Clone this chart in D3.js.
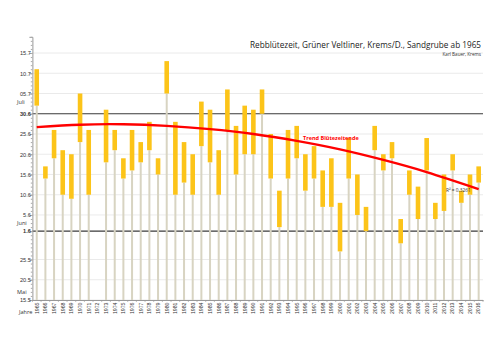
<!DOCTYPE html>
<html>
<head>
<meta charset="utf-8">
<script src="https://cdn.jsdelivr.net/npm/d3@7"></script>
<style>
  body { margin: 0; background: #fff; }
  svg { display: block; font-family: "Open Sans", "Noto Sans", sans-serif; }
</style>
</head>
<body>
<script>
// Jahre 1965-2016 (1972 ohne Daten)
var years = d3.range(1965, 2017);

// Blühbeginn / Blütezeitende als Tag.Monat
var starts = ["2.7","14.6","19.6","10.6","9.6","23.6","10.6",null,"18.6","21.6",
              "14.6","16.6","18.6","21.6","15.6","5.7","10.6","13.6","10.6","22.6",
              "18.6","10.6","26.6","15.6","20.6","20.6","30.6","14.6","2.6","14.6",
              "19.6","11.6","14.6","7.6","7.6","27.5","14.6","5.6","1.6","21.6",
              "16.6","19.6","29.5","10.6","4.6","16.6","4.6","6.6","16.6","8.6",
              "10.6","13.6"];
var ends   = ["11.7","17.6","26.6","21.6","20.6","5.7","26.6",null,"1.7","26.6",
              "19.6","26.6","23.6","28.6","19.6","13.7","28.6","23.6","20.6","3.7",
              "1.7","21.6","6.7","27.6","2.7","1.7","6.7","25.6","11.6","26.6",
              "27.6","20.6","22.6","16.6","19.6","8.6","24.6","15.6","7.6","27.6",
              "20.6","23.6","4.6","16.6","12.6","24.6","8.6","15.6","20.6","11.6",
              "15.6","17.6"];

// Trend Blütezeitende (Tage nach 1. Mai)
var trendYears = [1965, 1970, 1975, 1980, 1985, 1990, 1995, 2000, 2005, 2010, 2016];
var trendDays  = [56.7, 57.3, 57.4, 57.0, 56.2, 55.0, 53.3, 51.2, 48.6, 45.6, 41.4];

var tickDates  = ["15.5","20.5","25.5","1.6","5.6","10.6","15.6","20.6","25.6","30.6","5.7","10.7","15.7"];
var tickLabels = ["15.5","20.5","25.5","1.6","5.6","10.6","15.6","20.6","25.6","30.6","05.7","10.7","15.7"];
var boldDates  = ["1.6","30.6"];

var monthNames = ["Mai", "Juni", "Juli"];
var monthAt    = ["17.5", "3.6", "3.7"];

// Tag.Monat -> Tage nach 1. Mai
function toDay(s) {
  var p = s.split(".");
  var dd = +p[0], mm = +p[1];
  var offs = {5: -1, 6: 30, 7: 60};
  return offs[mm] + dd;
}

var w = 500, h = 354;
var left = 32.4, right = 483, bottom = 300;

var svg = d3.select("body").append("svg")
  .attr("width", w)
  .attr("height", h);

var x = d3.scaleBand()
  .domain(years)
  .range([left, right]);

var y = d3.scaleLinear()
  .domain([14, 79])
  .range([bottom, bottom - 65 * 4.049]);

var tickDays = tickDates.map(toDay);

// Gitterlinien
svg.append("g").selectAll("line")
  .data(tickDates)
  .enter().append("line")
  .attr("x1", left).attr("x2", right)
  .attr("y1", function(d) { return y(toDay(d)); })
  .attr("y2", function(d) { return y(toDay(d)); })
  .attr("stroke", function(d) { return boldDates.indexOf(d) >= 0 ? "#3a3a3a" : "#e4e4e4"; })
  .attr("stroke-width", function(d) { return boldDates.indexOf(d) >= 0 ? 1.1 : 0.8; });

var data = years.map(function(yr, i) {
  return { year: yr, start: starts[i], end: ends[i] };
}).filter(function(d) { return d.start != null; });

var cx = function(d) { return x(d.year) + x.bandwidth() / 2; };

// Sockel (15.5 bis Blühbeginn)
svg.append("g").selectAll("rect")
  .data(data)
  .enter().append("rect")
  .attr("x", function(d) { return cx(d) - 1; })
  .attr("width", 2)
  .attr("y", function(d) { return y(toDay(d.start)); })
  .attr("height", function(d) { return bottom - y(toDay(d.start)); })
  .attr("fill", "#d8d4c2");

// Blütezeit
svg.append("g").selectAll("rect")
  .data(data)
  .enter().append("rect")
  .attr("x", function(d) { return cx(d) - 2.3; })
  .attr("width", 4.6)
  .attr("y", function(d) { return y(toDay(d.end)); })
  .attr("height", function(d) { return y(toDay(d.start)) - y(toDay(d.end)); })
  .attr("fill", "#fcc419");

// Trendlinie
var line = d3.line()
  .x(function(d, i) { return x(trendYears[i]) + x.bandwidth() / 2; })
  .y(function(d) { return y(d); })
  .curve(d3.curveNatural);

svg.append("path")
  .datum(trendDays)
  .attr("d", line)
  .attr("fill", "none")
  .attr("stroke", "#ff0000")
  .attr("stroke-width", 2.4);

// Y-Achse
var yAxis = d3.axisLeft(y)
  .tickValues(tickDays)
  .tickSize(3)
  .tickFormat(function(d, i) { return tickLabels[i]; });

var gy = svg.append("g")
  .attr("transform", "translate(" + left + ",0)")
  .call(yAxis);
gy.select(".domain").attr("stroke", "#999");
gy.selectAll(".tick line").attr("stroke", "#999");
gy.selectAll("text")
  .attr("font-size", "5.6px")
  .attr("fill", "#333")
  .attr("x", -1.5)
  .attr("font-weight", function(d, i) { return boldDates.indexOf(tickDates[i]) >= 0 ? "bold" : "normal"; });

// kleine Striche, jeden Tag
svg.append("g")
  .attr("transform", "translate(" + left + ",0)")
  .call(d3.axisLeft(y).tickValues(d3.range(14, 80)).tickSize(1.6).tickFormat(""))
  .call(function(g) { g.select(".domain").remove(); })
  .selectAll("line").attr("stroke", "#aaa");

// Monatsnamen
svg.append("g").selectAll("text")
  .data(monthNames)
  .enter().append("text")
  .attr("x", 17)
  .attr("y", function(d, i) { return y(toDay(monthAt[i])) + 2; })
  .attr("font-size", "5.6px")
  .attr("fill", "#333")
  .text(function(d) { return d; });

// X-Achse
var xAxis = d3.axisBottom(x).tickSize(0);
var gx = svg.append("g")
  .attr("transform", "translate(0," + bottom + ")")
  .call(xAxis);
gx.select(".domain").attr("stroke", "#999");
gx.selectAll("text")
  .attr("transform", "rotate(-90)")
  .attr("text-anchor", "end")
  .attr("x", -2.5)
  .attr("y", 0)
  .attr("dy", "0.35em")
  .attr("font-size", "5.2px")
  .attr("fill", "#333");

// Striche zwischen den Jahren
svg.append("g").selectAll("line")
  .data(years.concat([2017]))
  .enter().append("line")
  .attr("x1", function(d) { return d === 2017 ? right : x(d); })
  .attr("x2", function(d) { return d === 2017 ? right : x(d); })
  .attr("y1", bottom).attr("y2", bottom + 2)
  .attr("stroke", "#999").attr("stroke-width", 0.6);

svg.append("text")
  .attr("x", 19).attr("y", 314)
  .attr("font-size", "5.6px").attr("fill", "#333")
  .text("Jahre");

// Titel
svg.append("text")
  .attr("x", 481).attr("y", 48)
  .attr("text-anchor", "end")
  .attr("font-size", "8.2px").attr("fill", "#222")
  .text("Rebblütezeit, Grüner Veltliner, Krems/D., Sandgrube ab 1965");

svg.append("text")
  .attr("x", 481).attr("y", 56)
  .attr("text-anchor", "end")
  .attr("font-size", "4.6px").attr("fill", "#333")
  .text("Karl Bauer, Krems");

svg.append("text")
  .attr("x", 303).attr("y", 140)
  .attr("font-size", "5.5px").attr("font-weight", "bold").attr("fill", "#ff0000")
  .text("Trend Blütezeitende");

svg.append("text")
  .attr("x", 446).attr("y", 191.5)
  .attr("font-size", "4.8px").attr("fill", "#333")
  .text("R² = 0,3261");
</script>
</body>
</html>
